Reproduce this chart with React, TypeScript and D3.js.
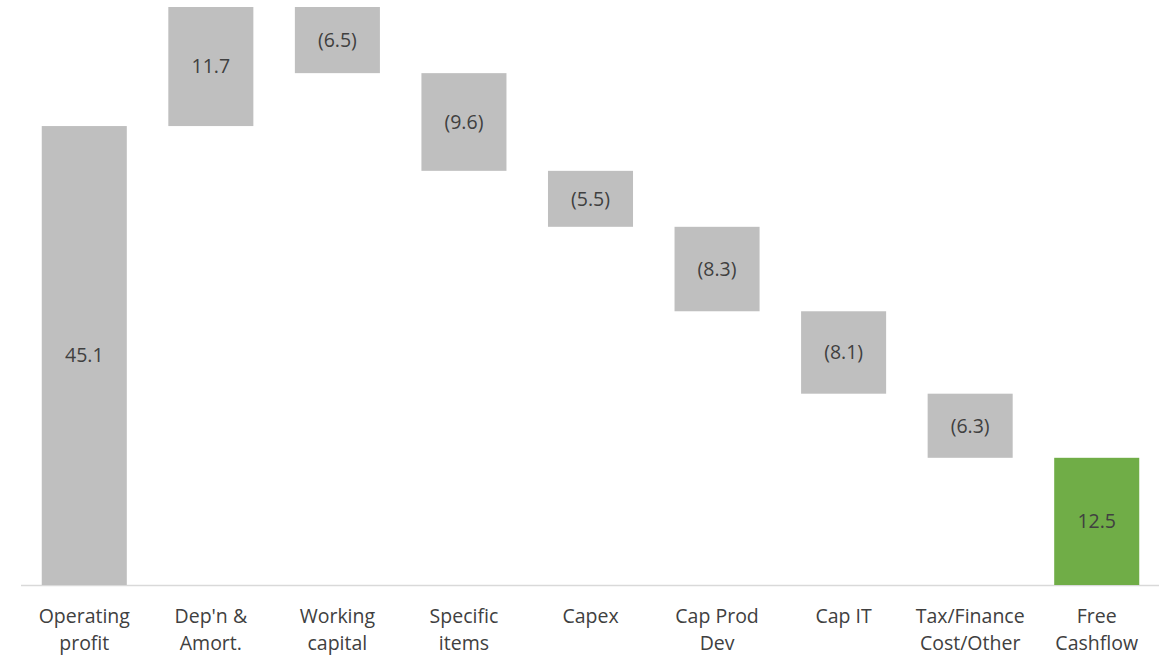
import React, { useEffect, useRef } from 'react'
import * as d3 from 'd3'

const categories = [
  'Operating profit',
  "Dep'n & Amort.",
  'Working capital',
  'Specific items',
  'Capex',
  'Cap Prod Dev',
  'Cap IT',
  'Tax/Finance Cost/Other',
  'Free Cashflow',
]
const labelLines = [
  ['Operating', 'profit'],
  ["Dep'n &", 'Amort.'],
  ['Working', 'capital'],
  ['Specific', 'items'],
  ['Capex'],
  ['Cap Prod', 'Dev'],
  ['Cap IT'],
  ['Tax/Finance', 'Cost/Other'],
  ['Free', 'Cashflow'],
]
const values = [45.1, 11.7, -6.5, -9.6, -5.5, -8.3, -8.1, -6.3, 12.5]
const kinds = ['total', 'step', 'step', 'step', 'step', 'step', 'step', 'step', 'total']

const W = 1159
const H = 656
const FONT = "'Open Sans', sans-serif"

const App = () => {
  const svg = useRef(null)

  useEffect(() => {
    let run = 0
    const bars = values.map((v, i) => {
      if (kinds[i] === 'total') {
        run = v
        return { cat: categories[i], y0: 0, y1: v, v, i }
      }
      const start = run
      run = run + v
      return { cat: categories[i], y0: start, y1: run, v, i }
    })

    const x = d3.scaleBand().domain(categories).range([21, 1160]).paddingInner(0.328).paddingOuter(0.164)
    const y = d3.scaleLinear().domain([0, 56.8]).range([585, 7])

    const g = d3.select(svg.current)
    g.selectAll('*').remove()

    g.append('line')
      .attr('x1', 21)
      .attr('x2', 1160)
      .attr('y1', y(0) + 0.5)
      .attr('y2', y(0) + 0.5)
      .attr('stroke', '#D9D9D9')
      .attr('stroke-width', 1.5)

    g.selectAll('.bar')
      .data(bars)
      .enter()
      .append('rect')
      .attr('class', 'bar')
      .attr('x', d => x(d.cat))
      .attr('width', x.bandwidth())
      .attr('y', d => y(Math.max(d.y0, d.y1)))
      .attr('height', d => Math.abs(y(d.y0) - y(d.y1)))
      .attr('fill', d => (d.i === categories.length - 1 ? '#70AD47' : '#BFBFBF'))

    g.selectAll('.val')
      .data(bars)
      .enter()
      .append('text')
      .attr('class', 'val')
      .attr('x', d => x(d.cat) + x.bandwidth() / 2)
      .attr('y', d => (y(d.y0) + y(d.y1)) / 2)
      .attr('dy', '0.35em')
      .attr('text-anchor', 'middle')
      .attr('font-family', FONT)
      .attr('font-size', 19.5)
      .attr('fill', '#404040')
      .text(d => (d.v < 0 ? `(${Math.abs(d.v).toFixed(1)})` : d.v.toFixed(1)))

    const lab = g
      .selectAll('.lab')
      .data(categories)
      .enter()
      .append('text')
      .attr('class', 'lab')
      .attr('text-anchor', 'middle')
      .attr('font-family', FONT)
      .attr('font-size', 19.5)
      .attr('fill', '#404040')

    lab
      .selectAll('tspan')
      .data((d, i) => labelLines[i].map(t => ({ t, c: d })))
      .enter()
      .append('tspan')
      .attr('x', d => x(d.c) + x.bandwidth() / 2)
      .attr('y', (d, j) => 623 + j * 27)
      .text(d => d.t)
  }, [])

  return (
    <svg
      ref={svg}
      width={W}
      height={H}
      style={{ position: 'absolute', left: 0, top: 0, background: '#fff' }}
    ></svg>
  )
}

export default App
